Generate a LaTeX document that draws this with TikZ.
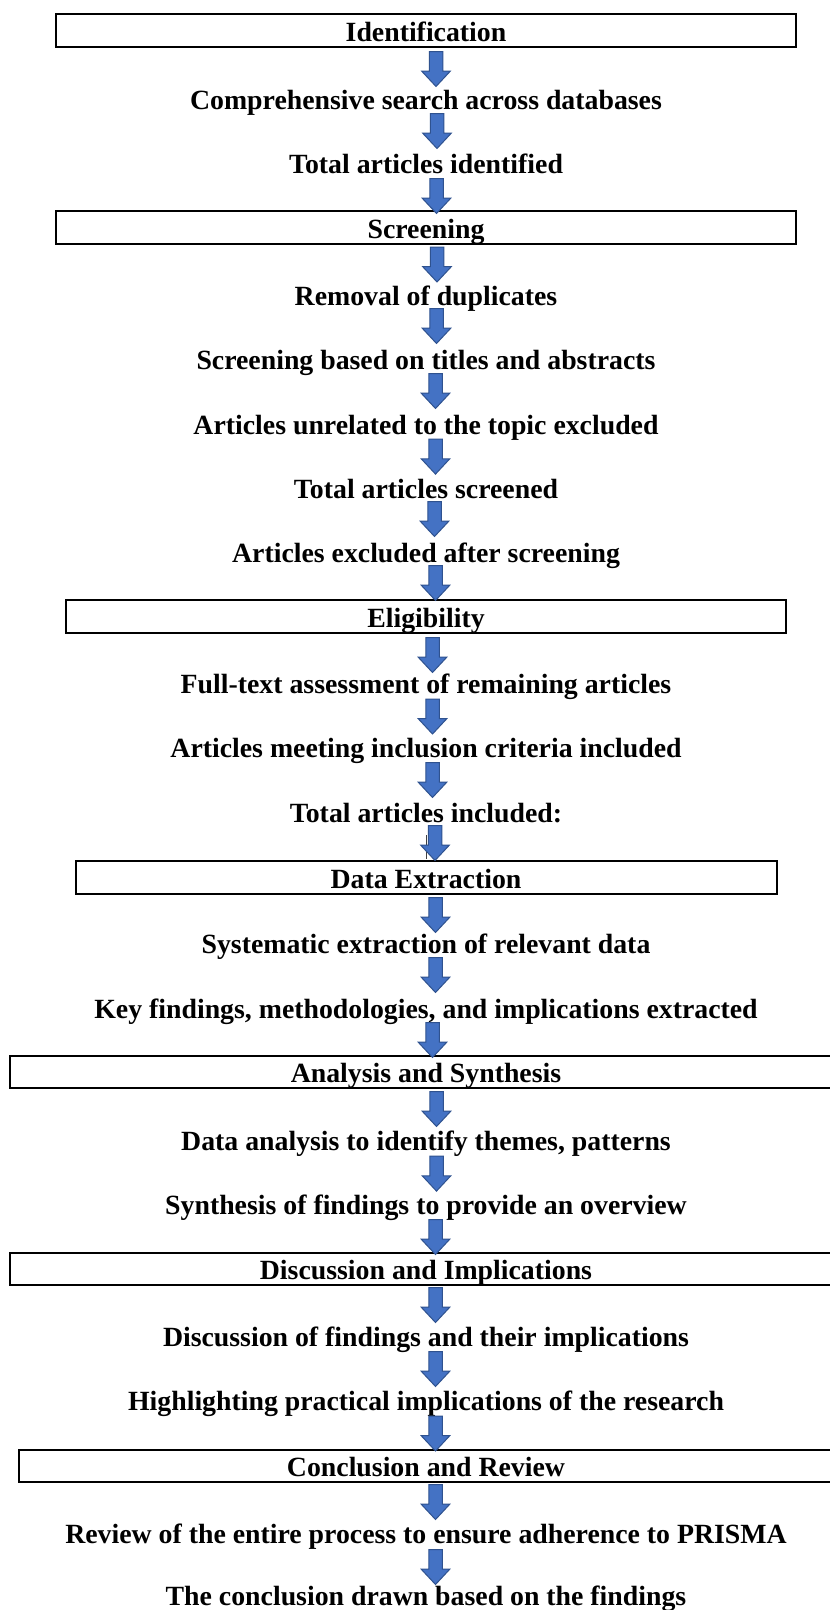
\documentclass[tikz,border=0pt]{standalone}
\usepackage{fontspec}
\setmainfont{Liberation Serif}
\usetikzlibrary{shapes.arrows}
\definecolor{arrowfill}{HTML}{4472C4}
\definecolor{arrowedge}{HTML}{2F528F}
\newcommand\flowfont{\fontsize{27.8}{33}\selectfont\bfseries}
\tikzset{
  stage/.style={draw, line width=2pt, rectangle, minimum height=32.5pt,
    inner sep=0pt, font=\flowfont, text height=21.4pt, text depth=0pt},
  stepline/.style={inner sep=0pt, font=\flowfont, text height=18.4pt, text depth=0pt},
  downarrow/.style={single arrow, rotate=-90, fill=arrowfill, draw=arrowedge,
    line width=1pt, minimum height=35pt, text width=0pt, text height=12.5pt,
    text depth=0pt, inner sep=0pt,
    single arrow head extend=7.5pt, single arrow tip angle=86, anchor=tail}
}
\begin{document}
\begin{tikzpicture}[x=1pt,y=-1pt]
\useasboundingbox (0,0) rectangle (830,1610);
\clip (0,0) rectangle (830,1610);
\fill[white] (0,0) rectangle (830,1610);

% phase boxes
\node[stage, minimum width=739.5pt] (ident) at (426,30.5) {Identification};
\node[stage, minimum width=739.5pt] (screen) at (426,227.5) {Screening};
\node[stage, minimum width=720.5pt] (elig) at (426,616.5) {Eligibility};
\node[stage, minimum width=701pt] (extract) at (426,877.5) {Data Extraction};
\node[stage, minimum width=833pt] (analysis) at (426,1072) {Analysis and Synthesis};
\node[stage, minimum width=833pt] (discuss) at (426,1269) {Discussion and Implications};
\node[stage, minimum width=815pt] (concl) at (426,1466) {Conclusion and Review};

% step lines
\node[stepline] (s1) at (426,100.3) {Comprehensive search across databases};
\node[stepline] (s2) at (426,164) {Total articles identified};
\node[stepline] (s3) at (426,296.5) {Removal of duplicates};
\node[stepline] (s4) at (426,360.2) {Screening based on titles and abstracts};
\node[stepline] (s5) at (426,424.9) {Articles unrelated to the topic excluded};
\node[stepline] (s6) at (426,489.6) {Total articles screened};
\node[stepline] (s7) at (426,553.3) {Articles excluded after screening};
\node[stepline] (s8) at (426,684.7) {Full-text assessment of remaining articles};
\node[stepline] (s9) at (426,748.5) {Articles meeting inclusion criteria included};
\node[stepline] (s10) at (426,813.2) {Total articles included:};
\node[stepline] (s11) at (426,944.7) {Systematic extraction of relevant data};
\node[stepline] (s12) at (426,1009.4) {Key findings, methodologies, and implications extracted};
\node[stepline] (s13) at (426,1141.7) {Data analysis to identify themes, patterns};
\node[stepline] (s14) at (426,1205.7) {Synthesis of findings to provide an overview};
\node[stepline] (s15) at (426,1337.1) {Discussion of findings and their implications};
\node[stepline] (s16) at (426,1401.7) {Highlighting practical implications of the research};
\node[stepline] (s17) at (426,1534.3) {Review of the entire process to ensure adherence to PRISMA};
\node[stepline] (s18) at (426,1596) {The conclusion drawn based on the findings};

% thin connector stub below "Total articles included:"
\coordinate (stubtop) at (426,835);
\coordinate (stubbot) at (426,859);
\draw[line width=0.8pt, black!75] (stubtop) -- (stubbot);

% block arrows
\node[downarrow] (a1) at (436,51) {};
\node[downarrow] (a2) at (437,113) {};
\node[downarrow] (a3) at (436.5,178) {};
\node[downarrow] (a4) at (437,246.5) {};
\node[downarrow] (a5) at (436.5,308) {};
\node[downarrow] (a6) at (435.5,373) {};
\node[downarrow] (a7) at (435.5,438.6) {};
\node[downarrow] (a8) at (434.5,501) {};
\node[downarrow] (a9) at (435.5,565) {};
\node[downarrow] (a10) at (432.5,637) {};
\node[downarrow] (a11) at (432.5,698.5) {};
\node[downarrow] (a12) at (432.5,762) {};
\node[downarrow] (a13) at (435,825) {};
\node[downarrow] (a14) at (435.5,897) {};
\node[downarrow] (a15) at (435.5,957) {};
\node[downarrow] (a16) at (432.5,1022) {};
\node[downarrow] (a17) at (436.5,1091) {};
\node[downarrow] (a18) at (436.5,1155.6) {};
\node[downarrow] (a19) at (435.5,1219) {};
\node[downarrow] (a20) at (435.5,1287) {};
\node[downarrow] (a21) at (435.5,1351) {};
\node[downarrow] (a22) at (435.5,1415.5) {};
\node[downarrow] (a23) at (435.5,1484) {};
\node[downarrow] (a24) at (435.5,1549) {};
\end{tikzpicture}
\end{document}
